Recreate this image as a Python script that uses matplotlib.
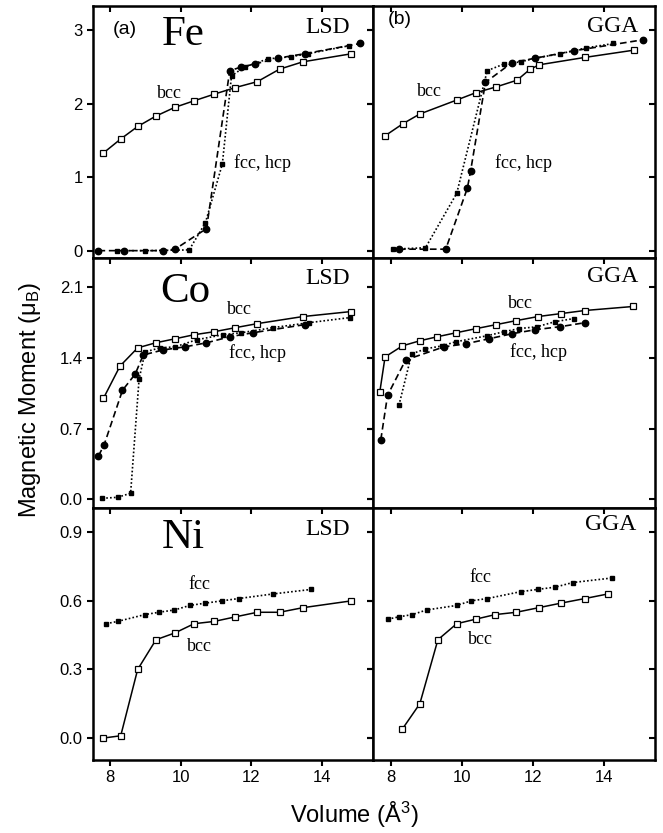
#!/usr/bin/env python3
"""
Magnetic moment vs volume for Fe, Co, Ni (LSD and GGA), bcc vs fcc/hcp.
"""

import matplotlib
matplotlib.use('Agg')
import matplotlib.pyplot as plt

# ---------------- data (volume in A^3, moment in mu_B) ----------------
# Fe, LSD
FE_LSD_BCC_V = [7.81, 8.30, 8.78, 9.29, 9.83, 10.38, 10.95, 11.55, 12.17, 12.80, 13.46, 14.84]
FE_LSD_BCC_M = [1.33, 1.52, 1.69, 1.83, 1.95, 2.04, 2.13, 2.22, 2.30, 2.47, 2.57, 2.68]
FE_LSD_HCP_V = [7.67, 8.38, 9.51, 9.84, 10.73, 11.39, 11.72, 12.10, 12.75, 13.51, 15.09]
FE_LSD_HCP_M = [0.00, 0.00, 0.00, 0.02, 0.30, 2.45, 2.50, 2.54, 2.62, 2.68, 2.82]
FE_LSD_FCC_V = [8.19, 8.99, 10.24, 10.70, 11.18, 11.44, 11.81, 12.47, 13.13, 13.60, 14.78]
FE_LSD_FCC_M = [0.00, 0.00, 0.01, 0.38, 1.18, 2.38, 2.50, 2.61, 2.64, 2.68, 2.79]

# Fe, GGA
FE_GGA_BCC_V = [7.83, 8.35, 8.82, 9.86, 10.40, 10.98, 11.56, 11.93, 12.19, 13.47, 14.87]
FE_GGA_BCC_M = [1.56, 1.73, 1.86, 2.05, 2.15, 2.23, 2.32, 2.47, 2.53, 2.63, 2.73]
FE_GGA_HCP_V = [8.23, 9.55, 10.16, 10.25, 10.67, 11.42, 12.08, 13.16, 15.11]
FE_GGA_HCP_M = [0.02, 0.02, 0.85, 1.08, 2.29, 2.56, 2.62, 2.72, 2.87]
FE_GGA_FCC_V = [8.05, 8.98, 9.86, 10.72, 11.19, 11.66, 12.08, 12.78, 13.51, 14.28]
FE_GGA_FCC_M = [0.02, 0.04, 0.78, 2.45, 2.54, 2.57, 2.62, 2.68, 2.76, 2.82]

# Co, LSD
CO_LSD_BCC_V = [7.81, 8.28, 8.78, 9.29, 9.84, 10.38, 10.95, 11.55, 12.17, 13.46, 14.84]
CO_LSD_BCC_M = [1.00, 1.32, 1.50, 1.55, 1.59, 1.63, 1.66, 1.70, 1.74, 1.81, 1.86]
CO_LSD_HCP_V = [7.67, 7.83, 8.35, 8.71, 8.94, 9.51, 10.12, 10.73, 11.39, 12.05, 13.51]
CO_LSD_HCP_M = [0.43, 0.54, 1.08, 1.24, 1.43, 1.48, 1.51, 1.55, 1.61, 1.65, 1.73]
CO_LSD_FCC_V = [7.78, 8.21, 8.58, 8.82, 8.99, 9.41, 9.84, 10.45, 11.20, 11.72, 12.61, 13.65, 14.80]
CO_LSD_FCC_M = [0.01, 0.02, 0.06, 1.19, 1.46, 1.50, 1.51, 1.58, 1.63, 1.65, 1.70, 1.75, 1.80]

# Co, GGA
CO_GGA_BCC_V = [7.69, 7.84, 8.33, 8.82, 9.31, 9.85, 10.40, 10.97, 11.54, 12.15, 12.81, 13.47, 14.84]
CO_GGA_BCC_M = [1.06, 1.41, 1.52, 1.57, 1.61, 1.65, 1.69, 1.73, 1.77, 1.81, 1.84, 1.87, 1.91]
CO_GGA_HCP_V = [7.72, 7.91, 8.42, 9.50, 10.11, 10.77, 11.42, 12.08, 12.78, 13.49]
CO_GGA_HCP_M = [0.59, 1.03, 1.38, 1.51, 1.54, 1.59, 1.64, 1.68, 1.71, 1.75]
CO_GGA_FCC_V = [8.23, 8.59, 8.98, 9.45, 9.83, 10.72, 11.19, 11.61, 12.13, 12.64, 13.16]
CO_GGA_FCC_M = [0.93, 1.44, 1.49, 1.52, 1.56, 1.62, 1.66, 1.69, 1.71, 1.76, 1.79]

# Ni, LSD
NI_LSD_BCC_V = [7.81, 8.30, 8.78, 9.30, 9.84, 10.38, 10.95, 11.55, 12.17, 12.80, 13.46, 14.84]
NI_LSD_BCC_M = [0.00, 0.01, 0.30, 0.43, 0.46, 0.50, 0.51, 0.53, 0.55, 0.55, 0.57, 0.60]
NI_LSD_FCC_V = [7.89, 8.21, 8.99, 9.38, 9.82, 10.26, 10.70, 11.17, 11.64, 12.61, 13.70]
NI_LSD_FCC_M = [0.50, 0.51, 0.54, 0.55, 0.56, 0.58, 0.59, 0.60, 0.61, 0.63, 0.65]

# Ni, GGA
NI_GGA_BCC_V = [8.33, 8.82, 9.33, 9.86, 10.40, 10.95, 11.54, 12.17, 12.80, 13.47, 14.12]
NI_GGA_BCC_M = [0.04, 0.15, 0.43, 0.50, 0.52, 0.54, 0.55, 0.57, 0.59, 0.61, 0.63]
NI_GGA_FCC_V = [7.92, 8.23, 8.61, 9.01, 9.86, 10.27, 10.72, 11.66, 12.14, 12.64, 13.13, 14.24]
NI_GGA_FCC_M = [0.52, 0.53, 0.54, 0.56, 0.58, 0.60, 0.61, 0.64, 0.65, 0.66, 0.68, 0.70]

X_TICKS = [8, 10, 12, 14]
FE_TICKS = [0, 1, 2, 3]
FE_TICKLABELS = ['0', '1', '2', '3']
CO_TICKS = [0.0, 0.7, 1.4, 2.1]
NI_TICKS = [0.0, 0.3, 0.6, 0.9]

SERIF = 'Liberation Serif'
SANS = 'Liberation Sans'

plt.rcParams['font.family'] = SANS
plt.rcParams['mathtext.fontset'] = 'custom'
plt.rcParams['mathtext.rm'] = SANS
plt.rcParams['mathtext.it'] = SANS + ':italic'


def draw_bcc(ax, v, m):
    ax.plot(v, m, '-', color='black', linewidth=1.1, marker='s', markersize=3.8,
            markerfacecolor='white', markeredgecolor='black', markeredgewidth=0.9, zorder=3)


def draw_hcp(ax, v, m):
    ax.plot(v, m, color='black', linewidth=1.2, linestyle=(0, (4, 2.2)),
            marker='o', markersize=4.6, markerfacecolor='black', zorder=2)


def draw_fcc(ax, v, m):
    ax.plot(v, m, color='black', linewidth=1.2, linestyle=(0, (1, 1.3)),
            marker='s', markersize=3.3, markerfacecolor='black', zorder=2)


def style_axes(ax, yticks, ylim, ylabels, xlabels, ytl=None):
    ax.set_xlim(7.5, 15.45)
    ax.set_ylim(*ylim)
    ax.set_xticks(X_TICKS)
    ax.set_yticks(yticks)
    for s in ax.spines.values():
        s.set_linewidth(1.8)
    ax.tick_params(direction='out', length=4, width=1.5, labelsize=12, pad=3)
    if ytl is not None:
        ax.set_yticklabels(ytl)
    else:
        ax.set_yticklabels([f'{t:.1f}' for t in yticks])
    if not ylabels:
        ax.tick_params(labelleft=False)
    if not xlabels:
        ax.tick_params(labelbottom=False)
    top = ax.secondary_xaxis('top')
    top.set_xticks(X_TICKS)
    top.tick_params(direction='in', length=4, width=1.5, labeltop=False)
    right = ax.secondary_yaxis('right')
    right.set_yticks(yticks)
    right.tick_params(direction='in', length=4, width=1.5, labelright=False)


fig = plt.figure(figsize=(6.63, 8.33), dpi=100)
W, H = 663.0, 833.0
col_px = [(92.5, 373.0), (373.0, 655.0)]
row_px = [(6.0, 258.0), (258.0, 508.0), (508.0, 760.0)]
axes = {}
for r, (t, b) in enumerate(row_px):
    for c, (l, rr) in enumerate(col_px):
        axes[(r, c)] = fig.add_axes([l / W, 1 - b / H, (rr - l) / W, (b - t) / H])

fe_ylim = (-0.1, 3.33)
co_ylim = (-0.086, 2.39)
ni_ylim = (-0.096, 1.006)

# --- Fe ---
ax = axes[(0, 0)]
draw_fcc(ax, FE_LSD_FCC_V, FE_LSD_FCC_M)
draw_hcp(ax, FE_LSD_HCP_V, FE_LSD_HCP_M)
draw_bcc(ax, FE_LSD_BCC_V, FE_LSD_BCC_M)
style_axes(ax, FE_TICKS, fe_ylim, True, False, FE_TICKLABELS)
ax.text(0.116, 0.905, '(a)', transform=ax.transAxes, fontsize=14, ha='center', va='center')
ax.text(0.323, 0.885, 'Fe', transform=ax.transAxes, fontsize=31, family=SERIF, ha='center', va='center')
ax.text(0.84, 0.913, 'LSD', transform=ax.transAxes, fontsize=17, family=SERIF, ha='center', va='center')
ax.text(9.69, 2.14, 'bcc', fontsize=13, family=SERIF, ha='center', va='center')
ax.text(12.32, 1.19, 'fcc, hcp', fontsize=13, family=SERIF, ha='center', va='center')

ax = axes[(0, 1)]
draw_fcc(ax, FE_GGA_FCC_V, FE_GGA_FCC_M)
draw_hcp(ax, FE_GGA_HCP_V, FE_GGA_HCP_M)
draw_bcc(ax, FE_GGA_BCC_V, FE_GGA_BCC_M)
style_axes(ax, FE_TICKS, fe_ylim, False, False, FE_TICKLABELS)
ax.text(0.096, 0.945, '(b)', transform=ax.transAxes, fontsize=14, ha='center', va='center')
ax.text(0.851, 0.92, 'GGA', transform=ax.transAxes, fontsize=17, family=SERIF, ha='center', va='center')
ax.text(9.08, 2.17, 'bcc', fontsize=13, family=SERIF, ha='center', va='center')
ax.text(11.75, 1.19, 'fcc, hcp', fontsize=13, family=SERIF, ha='center', va='center')

# --- Co ---
ax = axes[(1, 0)]
draw_fcc(ax, CO_LSD_FCC_V, CO_LSD_FCC_M)
draw_hcp(ax, CO_LSD_HCP_V, CO_LSD_HCP_M)
draw_bcc(ax, CO_LSD_BCC_V, CO_LSD_BCC_M)
style_axes(ax, CO_TICKS, co_ylim, True, False)
ax.text(0.33, 0.865, 'Co', transform=ax.transAxes, fontsize=31, family=SERIF, ha='center', va='center')
ax.text(0.84, 0.92, 'LSD', transform=ax.transAxes, fontsize=17, family=SERIF, ha='center', va='center')
ax.text(11.67, 1.88, 'bcc', fontsize=13, family=SERIF, ha='center', va='center')
ax.text(12.19, 1.45, 'fcc, hcp', fontsize=13, family=SERIF, ha='center', va='center')

ax = axes[(1, 1)]
draw_fcc(ax, CO_GGA_FCC_V, CO_GGA_FCC_M)
draw_hcp(ax, CO_GGA_HCP_V, CO_GGA_HCP_M)
draw_bcc(ax, CO_GGA_BCC_V, CO_GGA_BCC_M)
style_axes(ax, CO_TICKS, co_ylim, False, False)
ax.text(0.851, 0.927, 'GGA', transform=ax.transAxes, fontsize=17, family=SERIF, ha='center', va='center')
ax.text(11.66, 1.94, 'bcc', fontsize=13, family=SERIF, ha='center', va='center')
ax.text(12.17, 1.46, 'fcc, hcp', fontsize=13, family=SERIF, ha='center', va='center')

# --- Ni ---
ax = axes[(2, 0)]
draw_fcc(ax, NI_LSD_FCC_V, NI_LSD_FCC_M)
draw_bcc(ax, NI_LSD_BCC_V, NI_LSD_BCC_M)
style_axes(ax, NI_TICKS, ni_ylim, True, True)
ax.text(0.324, 0.88, 'Ni', transform=ax.transAxes, fontsize=31, family=SERIF, ha='center', va='center')
ax.text(0.84, 0.913, 'LSD', transform=ax.transAxes, fontsize=17, family=SERIF, ha='center', va='center')
ax.text(10.54, 0.67, 'fcc', fontsize=13, family=SERIF, ha='center', va='center')
ax.text(10.54, 0.40, 'bcc', fontsize=13, family=SERIF, ha='center', va='center')

ax = axes[(2, 1)]
draw_fcc(ax, NI_GGA_FCC_V, NI_GGA_FCC_M)
draw_bcc(ax, NI_GGA_BCC_V, NI_GGA_BCC_M)
style_axes(ax, NI_TICKS, ni_ylim, False, True)
ax.text(0.844, 0.933, 'GGA', transform=ax.transAxes, fontsize=17, family=SERIF, ha='center', va='center')
ax.text(10.53, 0.70, 'fcc', fontsize=13, family=SERIF, ha='center', va='center')
ax.text(10.53, 0.43, 'bcc', fontsize=13, family=SERIF, ha='center', va='center')

fig.text(30 / W, 1 - 400 / H, 'Magnetic Moment (μ$_{\\mathrm{B}}$)', rotation=90,
         fontsize=17, ha='center', va='center')
fig.text(354 / W, 1 - 815 / H, 'Volume (Å$^{3}$)', fontsize=17,
         ha='center', va='center')

fig.savefig('out.png', dpi=100)
